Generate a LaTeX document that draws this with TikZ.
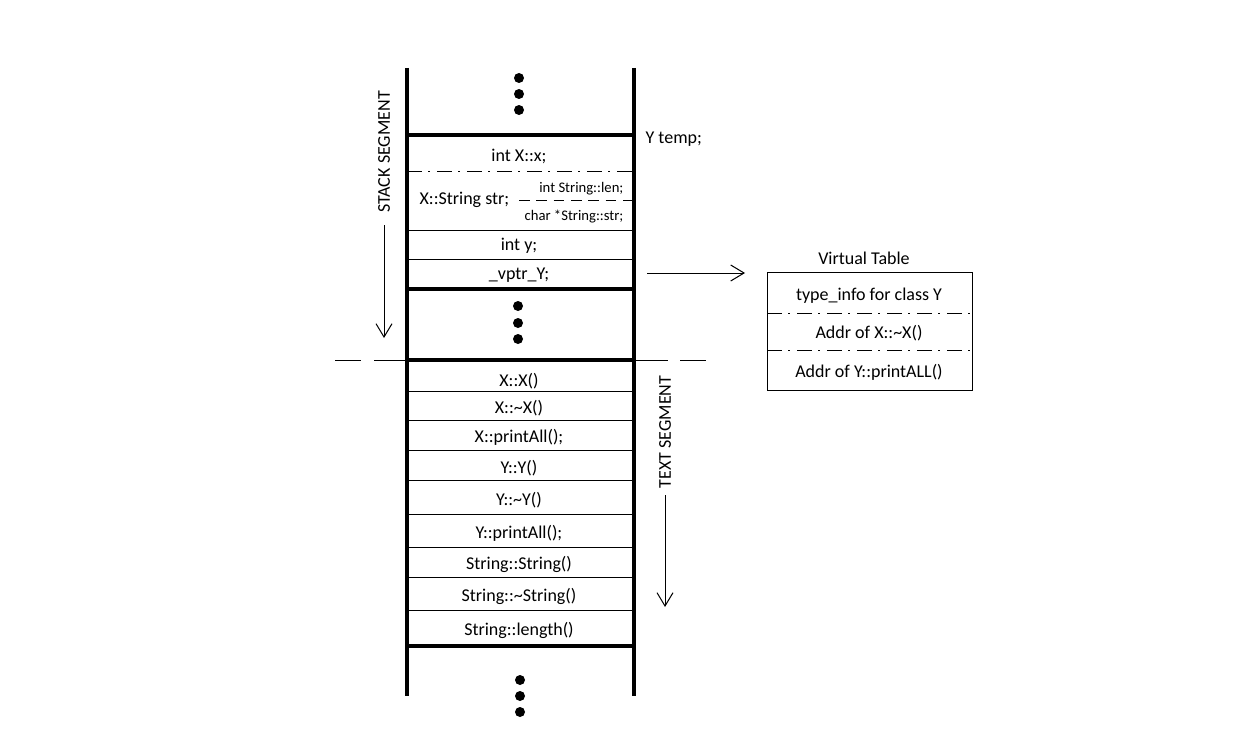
\documentclass[tikz,border=0pt]{standalone}
\usepackage{fontspec}
\setmainfont{Carlito}
\usetikzlibrary{arrows.meta, positioning}

\begin{document}
\begin{tikzpicture}[x=0.75pt, y=-0.75pt,
  wall/.style={line width=3pt},
  cell/.style={line width=0.75pt},
  dashdot/.style={line width=0.75pt, dash pattern=on 11pt off 5pt on 1.5pt off 5pt},
  lbl/.style={font=\fontsize{13.5}{16}\selectfont, inner sep=1pt, yshift=-1.5pt},
  smalllbl/.style={font=\fontsize{11}{13}\selectfont, inner sep=1pt, anchor=east, yshift=-1pt},
  dot/.style={circle, fill=black, inner sep=0pt, minimum size=7.5pt},
  segarrow/.style={-{Straight Barb[length=10pt, width=12pt]}, line width=0.75pt}]
  \useasboundingbox (0,0) rectangle (1242,749);

  % memory walls
  \draw[wall] (407,68) -- (407,696);
  \draw[wall] (634,68) -- (634,696);

  % dots (top, middle, bottom)
  \foreach \y [count=\i] in {78,94,110} {
    \node[dot] (topdot\i) at (519,\y) {};
  }
  \foreach \y [count=\i] in {306,323,339} {
    \node[dot] (middot\i) at (518,\y) {};
  }
  \foreach \y [count=\i] in {680,696,712} {
    \node[dot] (botdot\i) at (520,\y) {};
  }

  % stack segment: object Y temp
  \draw[wall] (407,135) -- (634,135);
  \node[lbl, anchor=west] (ytemp) at (644,137) {Y temp;};
  \node[lbl] (xx) at (519,154) {int X::x;};
  \draw[dashdot] (407,171) -- (634,171);
  \node[lbl, anchor=west] (xstr) at (418,198) {X::String str;};
  \node[smalllbl] (strlen) at (625,187) {int String::len;};
  \draw[cell, dash pattern=on 8pt off 5pt] (519,200) -- (634,200);
  \node[smalllbl] (strptr) at (625,215) {char *String::str;};
  \draw[cell] (407,230) -- (634,230);
  \node[lbl] (inty) at (519,244) {int y;};
  \draw[cell] (407,259) -- (634,259);
  \node[lbl] (vptr) at (519,273) {\_vptr\_Y;};
  \draw[wall] (407,289) -- (634,289);

  % boundary between segments
  \draw[wall] (407,360) -- (634,360);
  \draw[cell] (335,360) -- (361,360);
  \draw[cell] (374,360) -- (407,360);
  \draw[cell] (634,360) -- (668,360);
  \draw[cell] (680,360) -- (706,360);

  % text segment: functions
  \foreach \txt/\y/\line [count=\i] in {X::X()/379/391, X::\char`\~X()/406/420,
      X::printAll();/435/450, Y::Y()/466/480, Y::\char`\~Y()/498/514,
      Y::printAll();/531/547, String::String()/562/577,
      String::\char`\~String()/594/610} {
    \node[lbl] (fn\i) at (519,\y) {\txt};
    \draw[cell] (407,\line) -- (634,\line);
  }
  \node[lbl] (fn9) at (519,628) {String::length()};
  \draw[wall] (407,646) -- (634,646);

  % segment labels
  \node[lbl, rotate=90] (stackseg) at (384,150) {STACK SEGMENT};
  \coordinate (stacktail) at (384,225);
  \coordinate (stackhead) at (384,338);
  \draw[segarrow] (stacktail) -- (stackhead);
  \node[lbl, rotate=90] (textseg) at (665,430) {TEXT SEGMENT};
  \coordinate (texttail) at (665,495);
  \coordinate (texthead) at (665,607);
  \draw[segarrow] (texttail) -- (texthead);

  % virtual table
  \node[lbl] (vtitle) at (864,256) {Virtual Table};
  \draw[cell] (767,272) rectangle (972,390);
  \node[lbl] (vt1) at (869,294) {type\_info for class Y};
  \draw[dashdot] (767,313) -- (972,313);
  \node[lbl] (vt2) at (869,331) {Addr of X::\char`\~X()};
  \draw[dashdot] (767,350) -- (972,350);
  \node[lbl] (vt3) at (869,370) {Addr of Y::printALL()};

  \coordinate (vptrout) at (647,273);
  \coordinate (vtin) at (745,273);
  \draw[segarrow] (vptrout) -- (vtin);
\end{tikzpicture}
\end{document}
